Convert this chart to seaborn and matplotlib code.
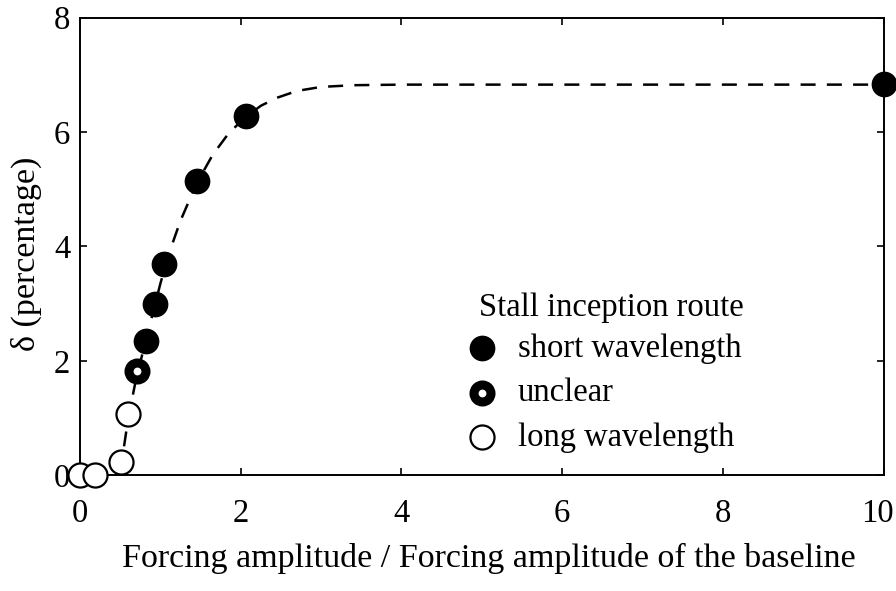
import pandas as pd
import matplotlib
matplotlib.use("Agg")
import matplotlib.pyplot as plt
import matplotlib.transforms as mtrans
import seaborn as sns

# values
short_x = [0.82, 0.93, 1.04, 1.45, 2.07, 10.0]
short_y = [2.35, 3.00, 3.70, 5.14, 6.28, 6.84]
unclear_x = [0.71]
unclear_y = [1.82]
long_x = [0.0, 0.19, 0.51, 0.60]
long_y = [0.0, 0.0, 0.23, 1.07]
# dashed fit curve
curve_x = [0.5, 0.6, 0.7, 0.8, 0.9, 1.0, 1.1, 1.25, 1.45, 1.65, 1.85, 2.05,
           2.25, 2.45, 2.7, 3.0, 3.4, 4.0, 10.0]
curve_y = [0.05, 1.0, 1.7, 2.25, 2.8, 3.35, 3.85, 4.45, 5.1, 5.6, 5.98, 6.25,
           6.46, 6.6, 6.72, 6.79, 6.82, 6.83, 6.83]
x_ticks = [0, 2, 4, 6, 8, 10]
y_ticks = [0, 2, 4, 6, 8]

sns.set_theme(style="ticks")
plt.rcParams.update({
    'font.family': ['Liberation Serif', 'DejaVu Serif'],
    'text.color': 'black',
    'axes.labelcolor': 'black',
    'xtick.color': 'black',
    'ytick.color': 'black',
    'axes.linewidth': 1.4,
    'xtick.direction': 'in',
    'ytick.direction': 'in',
    'xtick.major.size': 5,
    'ytick.major.size': 5,
    'xtick.major.width': 1.2,
    'ytick.major.width': 1.2,
    'xtick.top': True,
    'ytick.right': True,
    'axes.edgecolor': 'black',
})

fig = plt.figure(figsize=(8.96, 5.91), dpi=100)
ax = fig.add_axes([0.0893, 0.196, 0.897, 0.774])

curve = pd.DataFrame({'x': curve_x, 'y': curve_y})
sns.lineplot(data=curve, x='x', y='y', ax=ax, color='black', linewidth=1.8,
             sort=False, zorder=1)
ax.lines[-1].set_dashes((6, 4.5))

common = dict(ax=ax, s=300, zorder=3, clip_on=False)
sns.scatterplot(x=short_x, y=short_y, color='black', edgecolor='black',
                linewidth=1.2, label='short wavelength', **common)
sns.scatterplot(x=unclear_x, y=unclear_y, color='white', edgecolor='black',
                linewidth=6.5, s=150, ax=ax, zorder=3, clip_on=False, label='unclear')
sns.scatterplot(x=long_x, y=long_y, color='white', edgecolor='black',
                linewidth=1.6, label='long wavelength', **common)

ax.set_xlim(0, 10)
ax.set_ylim(0, 8)
ax.set_xticks(x_ticks)
ax.set_yticks(y_ticks)
ax.tick_params(labelsize=23.5)
ax.tick_params(axis='x', pad=17)
ax.tick_params(axis='y', pad=7)
ax.set_xlabel('Forcing amplitude / Forcing amplitude of the baseline',
              fontsize=24.5, labelpad=10)
ax.xaxis.label.set_x(0.509)
ax.set_ylabel('δ (percentage)', fontsize=24.5)
ax.yaxis.set_label_coords(-0.047, 0.484)

# pull the "10" label a little inside the canvas
shift = mtrans.ScaledTranslation(-6 / 100, 0, fig.dpi_scale_trans)
last = ax.get_xticklabels()[-1]
last.set_transform(last.get_transform() + shift)

ax.text(0.496, 0.365, 'Stall inception route', transform=ax.transAxes,
        fontsize=23.5, va='center', ha='left')
ax.legend(loc='upper left', bbox_to_anchor=(0.486, 0.31), frameon=False,
          fontsize=23.5, markerscale=1.0, handlelength=0.7, handletextpad=0.75,
          labelspacing=0.43, borderaxespad=0, borderpad=0)

fig.savefig("out.png", dpi=100)
